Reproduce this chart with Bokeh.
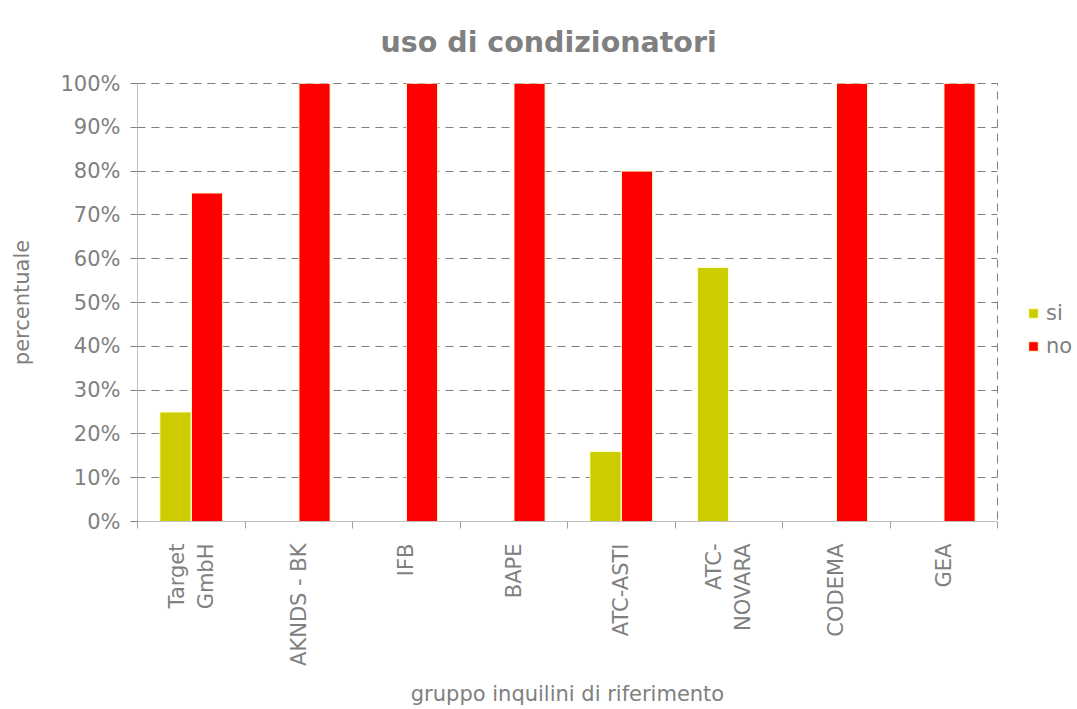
from math import pi
from bokeh.plotting import figure
from bokeh.layouts import row
from bokeh.models import (Range1d, LinearAxis, FixedTicker, PrintfTickFormatter,
                          ColumnDataSource, CustomJSTickFormatter, Legend, LegendItem)
from bokeh.transform import dodge
from bokeh.embed import file_html
from bokeh.resources import INLINE

# ---- data ----
categories = ["Target GmbH", "AKNDS - BK", "IFB", "BAPE", "ATC-ASTI",
              "ATC-NOVARA", "CODEMA", "GEA"]
category_labels = ["Target\nGmbH", "AKNDS - BK", "IFB", "BAPE", "ATC-ASTI",
                   "ATC-\nNOVARA", "CODEMA", "GEA"]
si = [25, 0, 0, 0, 16, 58, 0, 0]
no = [75, 100, 100, 100, 80, 0, 100, 100]
series = ["si", "no"]
series_colors = ["#cccc00", "#ff0000"]
y_ticks = list(range(0, 101, 10))

FONT = "DejaVu Sans"
GRAY = "#808080"
H = 708

n = len(categories)
positions = [i + 0.5 for i in range(n)]  # slot centres on the x scale
offsets = [-0.147, 0.147]

p = figure(x_range=Range1d(0, n), y_range=Range1d(0, 100),
           width=1000, height=H, output_backend="svg", toolbar_location=None,
           x_axis_location=None, title="uso di condizionatori",
           min_border_left=137, min_border_right=3, min_border_top=83,
           min_border_bottom=186)

src = ColumnDataSource(dict(cat=categories, pos=positions, si=si, no=no))
for s, c, off in zip(series, series_colors, offsets):
    p.vbar(x=dodge("pos", off), top=s, width=0.29, source=src,
           fill_color=c, line_color="#ffffcc", line_width=1)

# title
p.title.text_font = FONT
p.title.text_font_size = "28.5px"
p.title.text_font_style = "bold"
p.title.text_color = GRAY
p.title.align = "left"
p.title.vertical_align = "top"
p.title.standoff = 46
p.title.offset = 243

# y axis
p.yaxis.ticker = FixedTicker(ticks=y_ticks)
p.yaxis.formatter = PrintfTickFormatter(format="%d%%")
p.yaxis.major_tick_out = 7
p.yaxis.major_tick_in = 0
p.yaxis.minor_tick_line_color = None
p.yaxis.axis_line_color = "#c0c0c0"
p.yaxis.major_tick_line_color = GRAY
p.yaxis.major_label_text_font = FONT
p.yaxis.major_label_text_font_size = "21px"
p.yaxis.major_label_text_color = GRAY
p.yaxis.major_label_standoff = 10
p.yaxis.axis_label = "percentuale"
p.yaxis.axis_label_text_font = FONT
p.yaxis.axis_label_text_font_size = "21px"
p.yaxis.axis_label_text_font_style = "normal"
p.yaxis.axis_label_text_color = GRAY
p.yaxis.axis_label_standoff = 23

# x axes: boundary ticks + category labels
tick_axis = LinearAxis(ticker=FixedTicker(ticks=list(range(n + 1))),
                       formatter=CustomJSTickFormatter(code="return ''"),
                       major_label_text_font_size="1px",
                       major_label_standoff=0,
                       major_tick_out=7, major_tick_in=0,
                       minor_tick_line_color=None,
                       major_tick_line_color="#a0a0a0",
                       axis_line_color="#c0c0c0")
p.add_layout(tick_axis, "below")

cat_axis = LinearAxis(
    ticker=FixedTicker(ticks=positions),
    formatter=CustomJSTickFormatter(args=dict(labels=category_labels),
                                    code="return labels[Math.floor(tick)]"),
    major_label_orientation=pi / 2,
    axis_line_color=None, major_tick_line_color=None,
    minor_tick_line_color=None,
    major_tick_out=0, major_tick_in=0,
    major_label_standoff=15,
    major_label_text_font=FONT, major_label_text_font_size="21px",
    major_label_text_color=GRAY,
    axis_label="gruppo inquilini di riferimento",
    axis_label_text_font=FONT, axis_label_text_font_size="21px",
    axis_label_text_font_style="normal", axis_label_text_color=GRAY,
    axis_label_standoff=13)
p.add_layout(cat_axis, "below")

# grid & outline
p.xgrid.grid_line_color = None
p.ygrid.grid_line_color = GRAY
p.ygrid.grid_line_dash = "8 6"
p.ygrid.ticker = FixedTicker(ticks=y_ticks)
p.outline_line_color = GRAY
p.outline_line_dash = "8 6"
p.outline_line_width = 1

# legend panel (separate, to the right of the plot frame); its ranges keep
# the data bars far out of view so only the legend swatches show
leg = figure(x_range=Range1d(-101, -100), y_range=Range1d(-1001, -1000),
             width=76, height=H, output_backend="svg", toolbar_location=None,
             x_axis_location=None, y_axis_location=None, min_border=0)
leg.outline_line_color = None
leg.xgrid.grid_line_color = None
leg.ygrid.grid_line_color = None
swatches = [leg.vbar(x=dodge("pos", off), top=s, width=0.29, source=src,
                     fill_color=c, line_color="#ffffcc", line_width=1)
            for s, c, off in zip(series, series_colors, offsets)]
lg = Legend(items=[LegendItem(label=s, renderers=[r]) for s, r in zip(series, swatches)],
            location=(27, 163),
            label_text_font=FONT, label_text_font_size="21px",
            label_text_color=GRAY, glyph_width=12, glyph_height=12,
            label_height=25, label_standoff=7, spacing=8, padding=0, margin=0,
            border_line_color=None, background_fill_alpha=0)
leg.add_layout(lg)

layout = row(p, leg)
open("out.html", "w").write(file_html(layout, INLINE))
